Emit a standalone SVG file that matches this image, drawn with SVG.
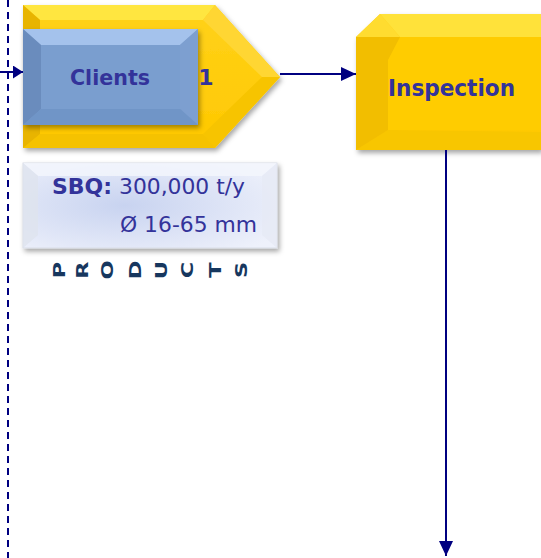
<svg xmlns="http://www.w3.org/2000/svg" width="541" height="558" viewBox="0 0 541 558">
<defs>
<style>
.lbl{font-family:"DejaVu Sans","Verdana",sans-serif;font-weight:bold;fill:#33339a}
.reg{font-family:"DejaVu Sans","Verdana",sans-serif;fill:#33339a}
.prod{font-family:"DejaVu Sans","Verdana",sans-serif;font-weight:bold;fill:#17375e;font-size:15px}
.conn{stroke:#000080;stroke-width:2;fill:none}
</style>
<marker id="ah" viewBox="0 0 10 10" refX="10" refY="5" markerWidth="15" markerHeight="14" markerUnits="userSpaceOnUse" orient="auto" preserveAspectRatio="none">
<path d="M0,0 L10,5 L0,10 z" fill="#000080"/>
</marker>
<marker id="ahs" viewBox="0 0 10 10" refX="10" refY="5" markerWidth="10" markerHeight="13" markerUnits="userSpaceOnUse" orient="auto" preserveAspectRatio="none">
<path d="M0,0 L10,5 L0,10 z" fill="#000080"/>
</marker>
<filter id="sh" x="-10%" y="-10%" width="130%" height="130%">
<feDropShadow dx="2" dy="3" stdDeviation="2.5" flood-color="#000" flood-opacity="0.35"/>
</filter>
<linearGradient id="yface" x1="0" y1="0" x2="0" y2="1">
<stop offset="0" stop-color="#ffd21a"/>
<stop offset="1" stop-color="#ffc800"/>
</linearGradient>
<linearGradient id="bface" x1="0" y1="0" x2="0" y2="1">
<stop offset="0" stop-color="#86a8d8"/>
<stop offset="1" stop-color="#7398c9"/>
</linearGradient>
<radialGradient id="wface" cx="0.4" cy="0.5" r="0.7">
<stop offset="0" stop-color="#c8d3f0"/>
<stop offset="1" stop-color="#eef1fb"/>
</radialGradient>
</defs>

<g id="dashed-boundary">
<line x1="8" y1="0" x2="8" y2="558" stroke="#000080" stroke-width="2" stroke-dasharray="7,5"/>
</g>

<g id="clients-node">
<g filter="url(#sh)">
<polygon points="23,5 215,5 280,77 215,148 23,148" fill="url(#yface)"/>
</g>
<polygon points="23,5 215,5 203,20 40,20" fill="#ffe640"/>
<polygon points="215,5 280,77 262,77 203,20" fill="#ffd633"/>
<polygon points="280,77 215,148 203,134 262,77" fill="#f7c400"/>
<polygon points="23,148 215,148 203,134 40,134" fill="#f5c200"/>
<polygon points="23,5 40,20 40,134 23,148" fill="#e8b400"/>
<g filter="url(#sh)">
<rect x="23" y="29" width="175" height="96" fill="url(#bface)"/>
</g>
<polygon points="23,29 198,29 180,45 41,45" fill="#a4c2ec"/>
<polygon points="23,29 41,45 41,109 23,125" fill="#6a8cbd"/>
<polygon points="198,29 198,125 180,109 180,45" fill="#7d9fd0"/>
<polygon points="23,125 198,125 180,109 41,109" fill="#7095c7"/>
<rect x="41" y="45" width="139" height="64" fill="#7a9ecf"/>
<text class="lbl" x="70" y="85" font-size="22" textLength="80" lengthAdjust="spacingAndGlyphs">Clients</text>
<text class="lbl" x="206" y="85" font-size="22" text-anchor="middle">1</text>
</g>

<g id="inspection-node">
<g filter="url(#sh)">
<polygon points="356,37 380,14 541,14 541,150 356,150" fill="url(#yface)"/>
</g>
<polygon points="380,14 541,14 541,37 400,37" fill="#ffe23a"/>
<polygon points="356,37 380,14 400,37" fill="#ffdc30"/>
<polygon points="356,150 541,150 541,132 388,130" fill="#f8c600"/>
<rect x="388" y="37" width="153" height="93" fill="#ffcc00"/>
<polygon points="356,37 400,37 388,60 388,130 356,150" fill="#f2be00"/>
<text class="lbl" x="388" y="96" font-size="22.5" textLength="127" lengthAdjust="spacingAndGlyphs">Inspection</text>
</g>

<g id="products-node">
<g filter="url(#sh)">
<rect x="23" y="163" width="254" height="85" fill="url(#wface)" stroke="#d8dce6" stroke-width="1"/>
</g>
<polygon points="23,163 277,163 262,176 38,176" fill="#f4f6fc" opacity="0.8"/>
<polygon points="23,163 38,176 38,235 23,248" fill="#dfe3ee" opacity="0.8"/>
<polygon points="277,163 277,248 262,235 262,176" fill="#e6eaf5" opacity="0.8"/>
<text x="52" y="194" font-size="20.5"><tspan class="lbl" textLength="60" lengthAdjust="spacingAndGlyphs">SBQ:</tspan><tspan class="reg" x="119" textLength="126" lengthAdjust="spacingAndGlyphs">300,000 t/y</tspan></text>
<text class="reg" x="120" y="232" font-size="20.5" textLength="137" lengthAdjust="spacingAndGlyphs">Ø 16-65 mm</text>
<g class="prod">
<text transform="translate(65,270) rotate(-90) scale(1.5,1)" text-anchor="middle">P</text>
<text transform="translate(88,270) rotate(-90) scale(1.5,1)" text-anchor="middle">R</text>
<text transform="translate(113,270) rotate(-90) scale(1.5,1)" text-anchor="middle">O</text>
<text transform="translate(141,270) rotate(-90) scale(1.5,1)" text-anchor="middle">D</text>
<text transform="translate(167,270) rotate(-90) scale(1.5,1)" text-anchor="middle">U</text>
<text transform="translate(193,270) rotate(-90) scale(1.5,1)" text-anchor="middle">C</text>
<text transform="translate(221,270) rotate(-90) scale(1.5,1)" text-anchor="middle">T</text>
<text transform="translate(247,270) rotate(-90) scale(1.5,1)" text-anchor="middle">S</text>
</g>
</g>

<g id="connectors">
<line class="conn" x1="0" y1="72" x2="23" y2="72" marker-end="url(#ahs)"/>
<line class="conn" x1="280" y1="74" x2="356" y2="74" marker-end="url(#ah)"/>
<line class="conn" x1="446" y1="150" x2="446" y2="556" marker-end="url(#ah)"/>
</g>
</svg>
